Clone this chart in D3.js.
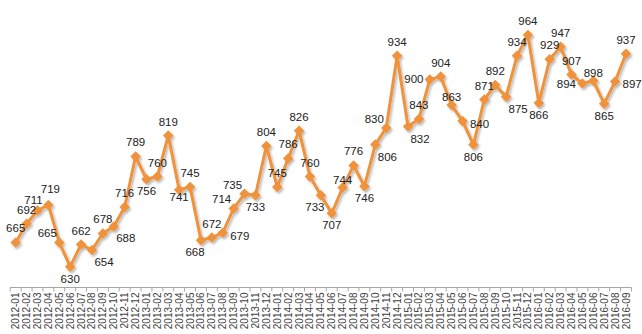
<!DOCTYPE html>
<html>
<head>
<meta charset="utf-8">
<script src="https://cdn.jsdelivr.net/npm/d3@7"></script>
<style>
  html, body { margin: 0; padding: 0; background: #fff; }
  svg { display: block; font-family: "Liberation Sans", Arial, sans-serif; }
</style>
</head>
<body>
<svg id="chart" width="642" height="334"></svg>
<script>
// Monthly series, 2012-01 .. 2016-09
const months = [
  "2012-01","2012-02","2012-03","2012-04","2012-05","2012-06","2012-07","2012-08","2012-09","2012-10","2012-11","2012-12",
  "2013-01","2013-02","2013-03","2013-04","2013-05","2013-06","2013-07","2013-08","2013-09","2013-10","2013-11","2013-12",
  "2014-01","2014-02","2014-03","2014-04","2014-05","2014-06","2014-07","2014-08","2014-09","2014-10","2014-11","2014-12",
  "2015-01","2015-02","2015-03","2015-04","2015-05","2015-06","2015-07","2015-08","2015-09","2015-10","2015-11","2015-12",
  "2016-01","2016-02","2016-03","2016-04","2016-05","2016-06","2016-07","2016-08","2016-09"
];
const values = [
  665, 692, 711, 719, 665, 630, 662, 654, 678, 688, 716, 789,
  756, 760, 819, 741, 745, 668, 672, 679, 714, 735, 733, 804,
  745, 786, 826, 760, 733, 707, 744, 776, 746, 806, 830, 934,
  832, 843, 900, 904, 863, 840, 806, 871, 892, 875, 934, 964,
  866, 929, 947, 907, 894, 898, 865, 897, 937
];
// Which side of each point its value label sits on
const labelSide = [
  "a","a","al2","a2","al","b","a","br","a","br","a","a",
  "b","a","a","bc","a","bl","a","r","al","al","b","a",
  "a","a","a","a","bl","b","ac","a","b","br","al","a",
  "br","a","l","a","ac","r","b","a","a","br","a","a",
  "b","a","a","a","l","ac","b","r","a"
];
const yDomain = [600, 1000];

const svg = d3.select("#chart");
const orange = "#F0923A";

const x = d3.scalePoint().domain(months).range([15.7, 626]);
const step = x.step();
const y = d3.scaleLinear().domain(yDomain).range([287.5, 10]);

// shadow for the series
const defs = svg.append("defs");
const f = defs.append("filter").attr("id", "shadow")
  .attr("x", "-20%").attr("y", "-20%").attr("width", "140%").attr("height", "140%");
f.append("feDropShadow").attr("dx", 1.5).attr("dy", 2).attr("stdDeviation", 1.3)
  .attr("flood-color", "#000").attr("flood-opacity", 0.28);

// category axis with ticks between months
const axisY = y(yDomain[0]);
const x0 = x(months[0]) - step / 2, x1 = x(months[months.length - 1]) + step / 2;
const axis = svg.append("g");
axis.append("line").attr("x1", x0).attr("x2", x1).attr("y1", axisY).attr("y2", axisY)
  .attr("stroke", "#a6a6a6").attr("stroke-width", 1);
const bounds = months.map(m => x(m) - step / 2).concat([x1]);
axis.selectAll("line.tick").data(bounds).enter().append("line")
  .attr("class", "tick")
  .attr("x1", d => d).attr("x2", d => d)
  .attr("y1", axisY).attr("y2", axisY + 4)
  .attr("stroke", "#a6a6a6").attr("stroke-width", 1);
axis.selectAll("text").data(months).enter().append("text")
  .attr("transform", d => `translate(${x(d) + 3.5},${axisY + 5}) rotate(-90)`)
  .attr("text-anchor", "end")
  .attr("font-size", 10)
  .attr("fill", "#404040")
  .text(d => d);

// line and diamond markers
const pts = months.map((m, i) => ({ m, v: values[i], side: labelSide[i] }));
const series = svg.append("g").attr("filter", "url(#shadow)");
series.append("path")
  .datum(pts)
  .attr("d", d3.line().x(d => x(d.m)).y(d => y(d.v)))
  .attr("fill", "none")
  .attr("stroke", orange)
  .attr("stroke-width", 3)
  .attr("stroke-linejoin", "round");
series.selectAll("path.mk").data(pts).enter().append("path")
  .attr("class", "mk")
  .attr("d", d3.symbol().type(d3.symbolDiamond2).size(70))
  .attr("transform", d => `translate(${x(d.m)},${y(d.v)})`)
  .attr("fill", orange);

// value labels
const off = {
  a: [0, -14], a2: [2, -16], ac: [0, -8], al: [-12, -9], al2: [-4, -11],
  b: [0, 12], bc: [0, 7], bl: [-6, 12], br: [12, 12],
  l: [-16, 0], r: [17, 3]
};
svg.append("g").selectAll("text").data(pts).enter().append("text")
  .attr("x", d => x(d.m) + off[d.side][0])
  .attr("y", d => y(d.v) + off[d.side][1])
  .attr("dy", "0.35em")
  .attr("text-anchor", "middle")
  .attr("font-size", 11.5)
  .attr("fill", "#222")
  .text(d => d.v);
</script>
</body>
</html>
